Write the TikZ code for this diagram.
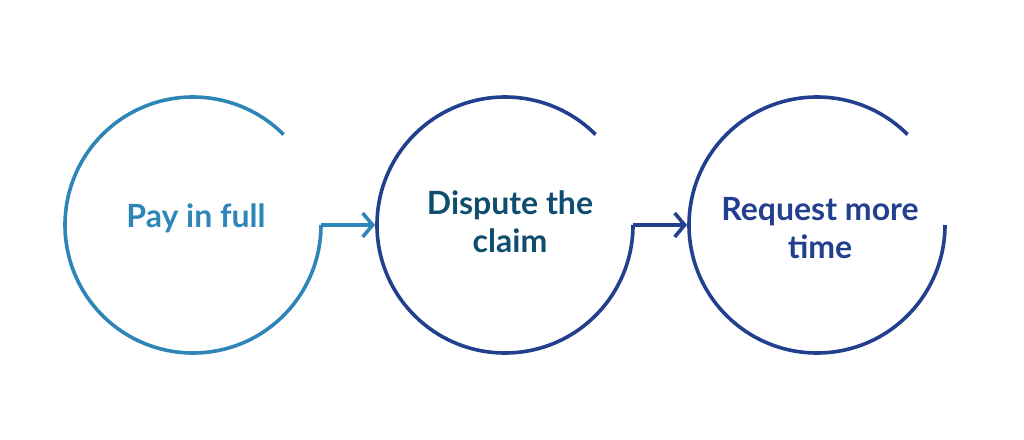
\documentclass[tikz,border=0pt]{standalone}
\usepackage{fontspec}
\setmainfont{Lato}
\usetikzlibrary{arrows.meta}
\definecolor{cA}{HTML}{2E86B8}
\definecolor{cB}{HTML}{23408E}
\definecolor{tB}{HTML}{0E4C70}
\begin{document}
\begin{tikzpicture}[x=1pt,y=-1pt,
  ring/.style={line width=3.6pt},
  lab/.style={font=\fontsize{32}{38}\selectfont\bfseries,align=center},
  arr/.style={line width=3.6pt,-{Straight Barb[length=10pt,width=24pt,line width=3.6pt]}}]
\useasboundingbox (0,0) rectangle (1024,439);
\foreach \n/\cx/\col in {1/193/cA,2/505/cB,3/817/cB}{
  \draw[ring,\col] ([shift={(\cx,225)}]45:128pt) arc[start angle=45,end angle=360,radius=128pt] coordinate (e\n);
}
\node[lab,text=cA] (t1) at (196,218) {Pay in full};
\node[lab,text=tB] (t2) at (510,222) {Dispute the\\claim};
\node[lab,text=cB] (t3) at (820,228) {Request more\\time};
\coordinate (a1) at (375,225);
\coordinate (a2) at (687,225);
\draw[arr,cA] (e1) -- (a1);
\draw[arr,cB] (e2) -- (a2);
\end{tikzpicture}
\end{document}
